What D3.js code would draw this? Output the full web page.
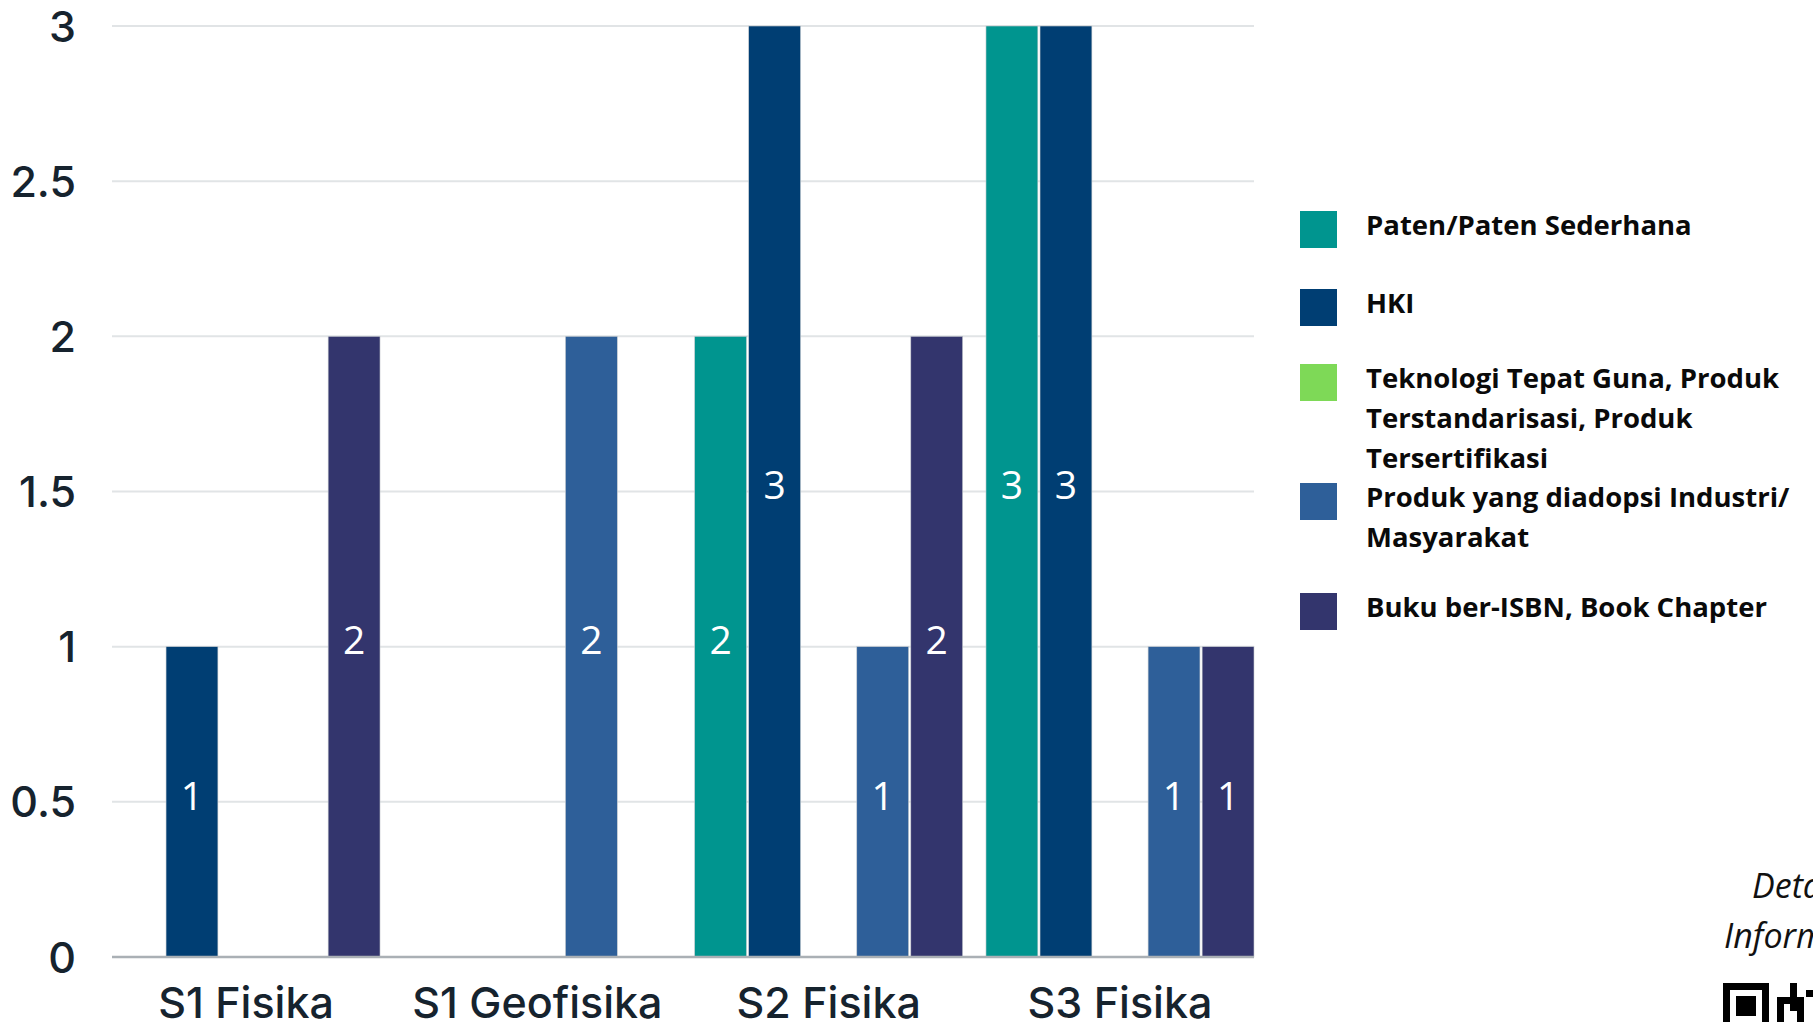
<!DOCTYPE html>
<html>
<head>
<meta charset="utf-8">
<script src="https://cdn.jsdelivr.net/npm/d3@7"></script>
<style>
  html, body { margin: 0; padding: 0; background: #fff; overflow: hidden; }
  svg { display: block; }
</style>
</head>
<body>
<div id="chart"></div>
<script>
// data
var categories = ['S1 Fisika', 'S1 Geofisika', 'S2 Fisika', 'S3 Fisika'];
var seriesNames = [
  'Paten/Paten Sederhana',
  'HKI',
  'Teknologi Tepat Guna, Produk Terstandarisasi, Produk Tersertifikasi',
  'Produk yang diadopsi Industri/ Masyarakat',
  'Buku ber-ISBN, Book Chapter'
];
// legend text as it wraps in the picture
var seriesLines = [
  ['Paten/Paten Sederhana'],
  ['HKI'],
  ['Teknologi Tepat Guna, Produk', 'Terstandarisasi, Produk', 'Tersertifikasi'],
  ['Produk yang diadopsi Industri/', 'Masyarakat'],
  ['Buku ber-ISBN, Book Chapter']
];
var patenValues = [0, 0, 2, 3];
var hkiValues = [1, 0, 3, 3];
var teknologiValues = [0, 0, 0, 0];
var produkValues = [0, 2, 1, 1];
var bukuValues = [2, 0, 2, 1];
var yTicks = [0, 0.5, 1, 1.5, 2, 2.5, 3];

var seriesColors = ['#00958f', '#003e73', '#7ed957', '#2e5f99', '#33356d'];

var attrs = {
  width: 1813,
  height: 1022,
  margin: { top: 26, right: 559, bottom: 65, left: 112 },
  legendX: 1300,
  legendTextX: 1366,
  legendY: [235, 313, 388, 507, 617],
  swatch: 37,
  lineHeight: 40
};

var allValues = [patenValues, hkiValues, teknologiValues, produkValues, bukuValues];

var chartWidth = attrs.width - attrs.margin.left - attrs.margin.right;
var chartHeight = attrs.height - attrs.margin.top - attrs.margin.bottom;

var svg = d3.select('#chart').append('svg')
  .attr('width', attrs.width)
  .attr('height', attrs.height);

var chart = svg.append('g')
  .attr('transform', `translate(${attrs.margin.left}, ${attrs.margin.top})`);

var x0 = d3.scaleBand()
  .domain(categories)
  .range([0, chartWidth])
  .paddingInner(0.08)
  .paddingOuter(0);

var x1 = d3.scaleBand()
  .domain(d3.range(seriesNames.length))
  .range([0, x0.bandwidth()])
  .paddingInner(0.04);

var y = d3.scaleLinear()
  .domain([0, 3])
  .range([chartHeight, 0]);

// gridlines
chart.append('g')
  .selectAll('line')
  .data(yTicks.filter(d => d > 0))
  .join('line')
  .attr('x1', 0)
  .attr('x2', chartWidth)
  .attr('y1', d => y(d))
  .attr('y2', d => y(d))
  .attr('stroke', '#e1e4e6')
  .attr('stroke-width', 2);

// y axis labels
var yAxis = chart.append('g')
  .call(d3.axisLeft(y).tickValues(yTicks).tickFormat(d3.format('~g')).tickSize(0).tickPadding(36));
yAxis.select('.domain').remove();
yAxis.selectAll('text')
  .attr('font-family', 'Inter, sans-serif')
  .attr('font-weight', 500)
  .attr('font-size', 43)
  .attr('fill', '#16232e')
  .attr('dy', '0.35em');

// bars
var flat = [];
categories.forEach(function (c, ci) {
  allValues.forEach(function (vals, si) {
    if (vals[ci] > 0) flat.push({ category: c, series: si, value: vals[ci] });
  });
});

var bars = chart.append('g');
bars.selectAll('rect')
  .data(flat)
  .join('rect')
  .attr('x', d => x0(d.category) + x1(d.series))
  .attr('y', d => y(d.value))
  .attr('width', x1.bandwidth())
  .attr('height', d => y(0) - y(d.value))
  .attr('fill', d => seriesColors[d.series])
  .attr('stroke', '#c9cdd1')
  .attr('stroke-width', 0.6);

bars.selectAll('text')
  .data(flat)
  .join('text')
  .attr('x', d => x0(d.category) + x1(d.series) + x1.bandwidth() / 2)
  .attr('y', d => y(d.value / 2))
  .attr('dy', '0.2em')
  .attr('text-anchor', 'middle')
  .attr('font-family', '"Open Sans", sans-serif')
  .attr('font-size', 39)
  .attr('fill', '#fff')
  .text(d => d.value);

// baseline
chart.append('line')
  .attr('x1', 0)
  .attr('x2', chartWidth)
  .attr('y1', y(0))
  .attr('y2', y(0))
  .attr('stroke', '#aab0b5')
  .attr('stroke-width', 2.5);

// x axis labels
var xAxis = chart.append('g')
  .attr('transform', `translate(0, ${chartHeight})`)
  .call(d3.axisBottom(x0).tickSize(0).tickPadding(30));
xAxis.select('.domain').remove();
xAxis.selectAll('text')
  .attr('font-family', 'Inter, sans-serif')
  .attr('font-weight', 500)
  .attr('font-size', 43)
  .attr('fill', '#16232e')
  .attr('dy', '0.71em');

// legend
var legend = svg.append('g');
var items = legend.selectAll('g')
  .data(seriesNames)
  .join('g')
  .attr('transform', (d, i) => `translate(0, ${attrs.legendY[i]})`);

items.append('rect')
  .attr('x', attrs.legendX)
  .attr('y', -24)
  .attr('width', attrs.swatch)
  .attr('height', attrs.swatch)
  .attr('fill', (d, i) => seriesColors[i]);

items.append('text')
  .attr('font-family', '"Open Sans", sans-serif')
  .attr('font-weight', 700)
  .attr('font-size', 27.5)
  .attr('fill', '#0a0a0a')
  .selectAll('tspan')
  .data((d, i) => seriesLines[i])
  .join('tspan')
  .attr('x', attrs.legendTextX)
  .attr('y', (d, j) => j * attrs.lineHeight)
  .text(d => d);

// corner note and qr code (cut off at the edge in the picture)
var note = svg.append('g')
  .attr('font-family', '"Open Sans", sans-serif')
  .attr('font-style', 'italic')
  .attr('font-size', 34)
  .attr('fill', '#111');
note.append('text').attr('x', 1752).attr('y', 898).text('Detail');
note.append('text').attr('x', 1724).attr('y', 948).text('Informasi');

var qr = svg.append('g').attr('fill', '#000');
qr.append('rect').attr('x', 1723).attr('y', 983).attr('width', 46).attr('height', 46);
qr.append('rect').attr('x', 1730).attr('y', 990).attr('width', 32).attr('height', 32).attr('fill', '#fff');
qr.append('rect').attr('x', 1736).attr('y', 996).attr('width', 20).attr('height', 20);
[[1790, 983, 7, 14], [1777, 997, 27, 7], [1777, 1004, 7, 18], [1790, 1004, 14, 7], [1797, 1011, 7, 11], [1806, 990, 7, 7]].forEach(function (m) {
  qr.append('rect').attr('x', m[0]).attr('y', m[1]).attr('width', m[2]).attr('height', m[3]);
});
</script>
</body>
</html>
